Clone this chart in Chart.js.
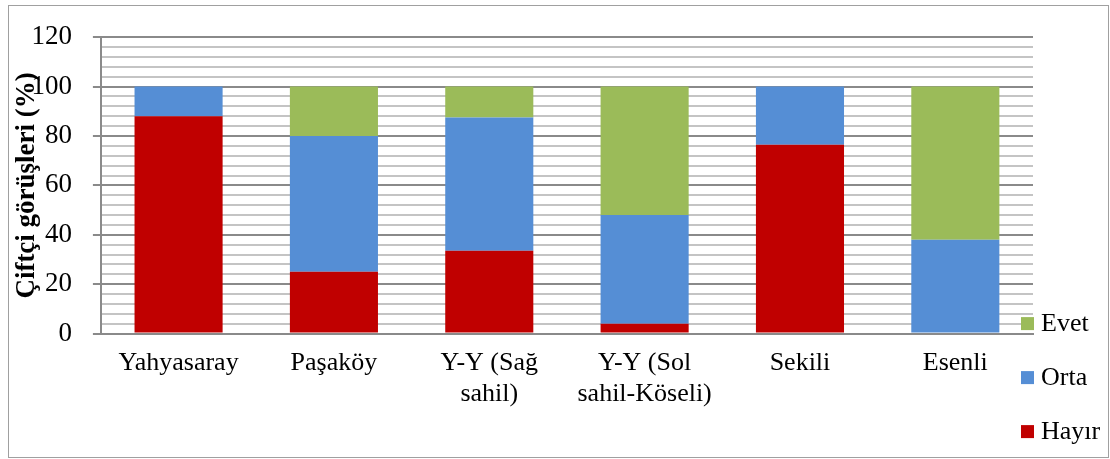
<!DOCTYPE html>
<html>
<head>
<meta charset="utf-8">
<script src="https://cdn.jsdelivr.net/npm/chart.js@4/dist/chart.umd.min.js"></script>
<style>
  body { margin: 0; background: #fff; }
  #frame { position: absolute; left: 8px; top: 5px; width: 1099px; height: 451px; border: 1px solid #a0a0a0; }
  #c { position: absolute; left: 0; top: 0; }
</style>
</head>
<body>
<div id="frame"></div>
<canvas id="c" width="1110" height="459"></canvas>
<script>
const kategoriler = ['Yahyasaray', 'Paşaköy', ['Y-Y (Sağ', 'sahil)'], ['Y-Y (Sol', 'sahil-Köseli)'], 'Sekili', 'Esenli'];
const hayir = [88, 25, 33.5, 4, 76.5, 0];
const orta = [12, 55, 54, 44, 23.5, 38];
const evet = [0, 20, 12.5, 52, 0, 62];
const yTicks = [0, 20, 40, 60, 80, 100, 120];

const serif = 'Liberation Serif';

// legend drawn by hand: Excel puts it bottom-right with wide spacing
const legendPlugin = {
  id: 'sagLegend',
  afterDraw(chart) {
    const ctx = chart.ctx;
    const area = chart.chartArea;
    const sets = chart.data.datasets.slice().reverse();
    ctx.save();
    ctx.font = '26px "' + serif + '"';
    ctx.textBaseline = 'middle';
    sets.forEach((ds, i) => {
      const cy = area.bottom - 10 + i * 54;
      const bx = area.right - 12;
      ctx.fillStyle = ds.backgroundColor;
      ctx.fillRect(bx, cy - 6.5, 13, 13);
      ctx.fillStyle = '#000';
      ctx.fillText(ds.label, bx + 20, cy + 1);
    });
    ctx.restore();
  }
};

new Chart(document.getElementById('c').getContext('2d'), {
  type: 'bar',
  data: {
    labels: kategoriler,
    datasets: [
      { label: 'Hayır', data: hayir, backgroundColor: '#C00000' },
      { label: 'Orta', data: orta, backgroundColor: '#558ED5' },
      { label: 'Evet', data: evet, backgroundColor: '#9BBB59' }
    ]
  },
  options: {
    responsive: false,
    animation: false,
    devicePixelRatio: 1,
    layout: { padding: { left: 6, right: 77, top: 37, bottom: 35 } },
    datasets: { bar: { categoryPercentage: 1, barPercentage: 0.567 } },
    plugins: { legend: { display: false }, tooltip: { enabled: false } },
    scales: {
      x: {
        stacked: true,
        grid: { display: true, drawOnChartArea: false, drawTicks: false },
        border: { color: '#8a8a8a', width: 2 },
        ticks: { color: '#000', padding: 14, maxRotation: 0, font: { family: serif, size: 26 } }
      },
      y: {
        stacked: true,
        min: 0,
        max: 120,
        border: { color: '#8a8a8a', width: 2 },
        grid: {
          lineWidth: 2,
          tickLength: 8,
          color: c => yTicks.includes(c.tick.value) ? '#8a8a8a' : '#c4c4c4',
          tickColor: c => yTicks.includes(c.tick.value) ? '#8a8a8a' : 'rgba(0,0,0,0)'
        },
        ticks: {
          stepSize: 4,
          autoSkip: false,
          padding: 21,
          color: '#000',
          font: { family: serif, size: 27 },
          callback: v => yTicks.includes(v) ? v : ''
        },
        title: {
          display: true,
          text: 'Çiftçi görüşleri (%)',
          color: '#000',
          font: { family: serif, size: 27, weight: 'bold' },
          padding: { top: 5, bottom: -33 }
        }
      }
    }
  },
  plugins: [legendPlugin]
});
</script>
</body>
</html>
